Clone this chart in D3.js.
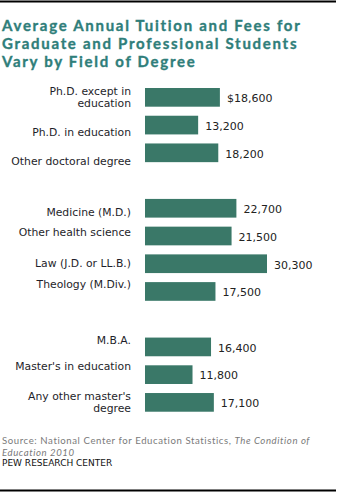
<!DOCTYPE html>
<html><head><meta charset="utf-8">
<script src="https://cdn.jsdelivr.net/npm/d3@7"></script>
<style>body{margin:0;background:#fff}svg{display:block}</style>
</head><body>
<script>
const titleLines = ["Average Annual Tuition and Fees for","Graduate and Professional Students","Vary by Field of Degree"];
const categories = [
  ["Ph.D. except in","education"],
  ["Ph.D. in education"],
  ["Other doctoral degree"],
  null,
  ["Medicine (M.D.)"],
  ["Other health science"],
  ["Law (J.D. or LL.B.)"],
  ["Theology (M.Div.)"],
  null,
  ["M.B.A."],
  ["Master's in education"],
  ["Any other master's","degree"]
];
const values = [18600,13200,18200,null,22700,21500,30300,17500,null,16400,11800,17100];
const valueLabels = ["$18,600","13,200","18,200",null,"22,700","21,500","30,300","17,500",null,"16,400","11,800","17,100"];
// label vertical nudges (px) relative to bar centre, as in the original layout
const labelDy = [0,7,8,0,4,-4,-1,-7,0,-7,-8,0];

const W=338,H=493;
const svg=d3.select("body").append("svg").attr("width",W).attr("height",H);

svg.append("line").attr("x1",0).attr("x2",336).attr("y1",1.5).attr("y2",1.5).attr("stroke","#000").attr("stroke-width",2);
svg.append("line").attr("x1",0).attr("x2",336).attr("y1",490.5).attr("y2",490.5).attr("stroke","#000").attr("stroke-width",2);

function fitSpacing(sel, text, target){
  const w=sel.node().getComputedTextLength();
  return (target-w)/(text.length-1);
}

const tg=svg.append("g");
tg.selectAll("text").data(titleLines).join("text")
  .attr("x",2).attr("y",(d,i)=>31+i*18)
  .attr("font-family","Lato, 'Open Sans', sans-serif").attr("font-weight","bold")
  .attr("font-size",15).attr("fill","#2f7e7a").attr("stroke","#2f7e7a").attr("stroke-width",0.35).text(d=>d);
tg.selectAll("text").attr("letter-spacing",fitSpacing(tg.select("text"),titleLines[0],298));

const idx=d3.range(values.length);
const y=d3.scaleBand().domain(idx).range([83.48,416.24]).paddingInner(0.326).paddingOuter(0.163);
const x=d3.scaleLinear().domain([0,30300]).range([145,267]);

const rows=idx.filter(i=>values[i]!=null);
svg.append("g").selectAll("rect").data(rows).join("rect")
  .attr("x",x(0)).attr("y",i=>y(i)).attr("width",i=>x(values[i])-x(0)).attr("height",y.bandwidth())
  .attr("fill","#3a7868");

svg.append("g").selectAll("text").data(rows).join("text")
  .attr("x",i=>x(values[i])+7).attr("y",i=>y(i)+y.bandwidth()/2+1).attr("dy","0.35em")
  .attr("font-family","'DejaVu Sans', Verdana, sans-serif").attr("font-size",11).attr("fill","#222")
  .text(i=>valueLabels[i]);

const lg=svg.append("g");
rows.forEach(i=>{
  const lines=categories[i];
  const cy=y(i)+y.bandwidth()/2+labelDy[i];
  lines.forEach((t,k)=>{
    lg.append("text").attr("x",131).attr("y",cy+(k-(lines.length-1)/2)*12).attr("dy","0.35em")
      .attr("text-anchor","end").attr("font-family","'DejaVu Sans', Verdana, sans-serif").attr("font-size",10.8)
      .attr("fill","#1e1e2a").text(t);
  });
});

const src=svg.append("text").attr("x",2).attr("y",444.3).attr("font-family","Lato, 'Open Sans', sans-serif").attr("font-size",9.6).attr("fill","#7a7a7a");
src.append("tspan").text("Source: National Center for Education Statistics, ");
src.append("tspan").attr("font-style","italic").text("The Condition of");
const srcText="Source: National Center for Education Statistics, The Condition of";
const sls=fitSpacing(src,srcText,308);
src.attr("letter-spacing",sls);
svg.append("text").attr("x",2).attr("y",455.8).attr("font-family","Lato, 'Open Sans', sans-serif").attr("font-size",9.6).attr("letter-spacing",sls).attr("fill","#7a7a7a").attr("font-style","italic").text("Education 2010");
svg.append("text").attr("x",2).attr("y",466).attr("font-family","'DejaVu Sans', Verdana, sans-serif").attr("font-size",9).attr("fill","#111").text("PEW RESEARCH  CENTER");
</script>
</body></html>
